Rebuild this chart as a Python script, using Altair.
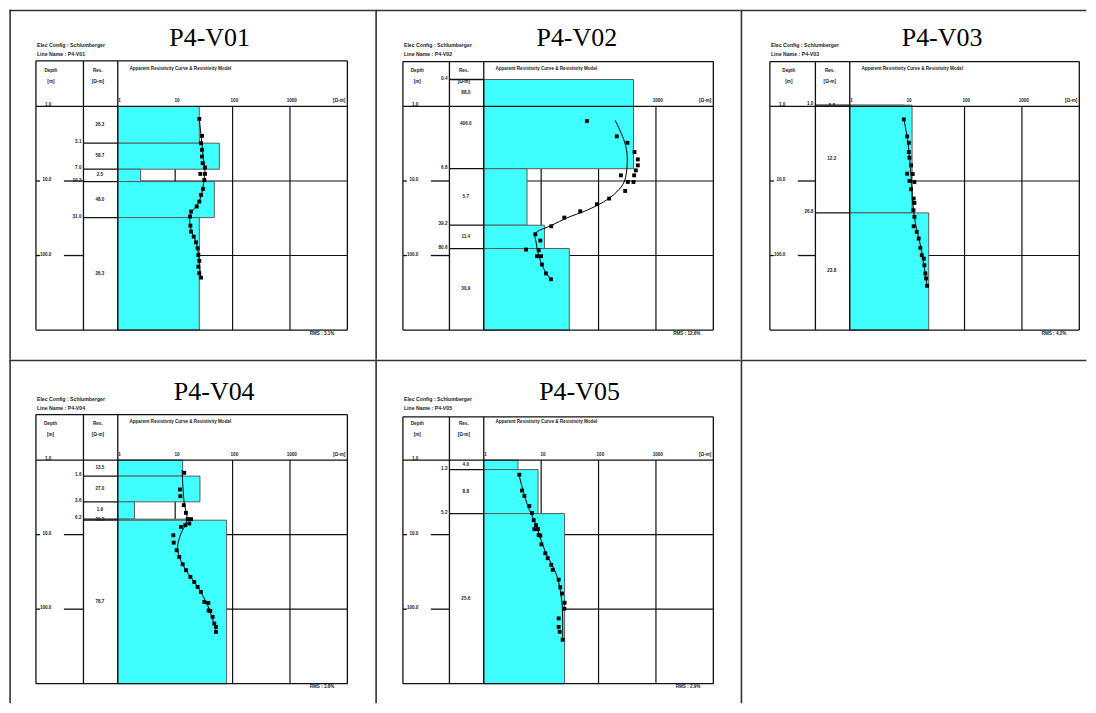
import math
import altair as alt
import pandas as pd

# ---------------- data ----------------
NAMES = ["P4-V01", "P4-V02", "P4-V03", "P4-V04", "P4-V05"]
X_TICKS = [1, 10, 100, 1000]
X_TICK_LABELS = ["1", "10", "100", "1000"]
DEPTH_TICKS = [1, 10, 100]
DEPTH_TICK_LABELS = ["1.0", "10.0", "100.0"]
GRID_X = [10, 100, 1000]
GRID_Y = [10, 100]

# P4-V01
V01_BOUND = [3.11, 6.95, 10.2, 31.0]
V01_BOUND_LABEL = ["3.1", "7.0", "10.2", "31.0"]
V01_RES = [26.3, 58.7, 2.5, 48.0, 26.3]
V01_AB2 = [1.47, 2.48, 3.11, 3.82, 4.70, 5.77, 6.60, 8.03, 8.03, 9.67, 12.8, 15.4, 18.9,
           22.0, 25.7, 30.0, 39.7, 47.8, 55.8, 66.5, 80.0, 98.4, 118, 141, 173, 198]
V01_RHOA = [26.3, 29.3, 28.1, 29.3, 29.3, 30.1, 33.0, 27.4, 33.0, 32.2, 30.5, 28.1, 26.3,
            23.7, 18.9, 18.1, 18.4, 18.9, 21.0, 23.0, 24.6, 25.3, 26.3, 25.3, 26.3, 28.1]
V01_CURVE_AB2 = [1.44, 3.27, 4.94, 7.47, 10.7, 17.1, 22.0, 27.1, 35.1, 47.8, 65.1, 98.4, 149, 203]
V01_CURVE_RHO = [26.3, 29.3, 30.9, 33.0, 31.3, 27.4, 23.0, 18.9, 17.9, 19.4, 23.0, 25.6, 27.0, 27.8]
V01_RMS = "RMS : 3.1%"

# P4-V02
V02_BOUND = [0.435, 6.84, 39.2, 80.6]
V02_BOUND_LABEL = ["0.4", "6.8", "39.2", "80.6"]
V02_RES = [88.0, 406.0, 5.67, 11.4, 30.9]
V02_AB2 = [1.57, 2.52, 3.07, 4.09, 5.13, 6.17, 7.20, 8.40, 8.40, 10.3, 10.3, 13.6, 17.2,
           20.5, 25.5, 31.0, 40.5, 51.8, 63.0, 83.1, 84.9, 102, 102, 132, 174, 208]
V02_RHOA = [62.7, 208, 319, 423, 483, 483, 446, 417, 245, 406, 324, 291, 153,
            93.5, 48.0, 25.3, 15.0, 7.92, 9.68, 5.45, 9.05, 8.47, 9.94, 10.3, 12.1, 14.8]
V02_CURVE_AB2 = [1.54, 2.71, 4.09, 6.84, 10.3, 14.0, 19.1, 24.7, 31.3, 39.2, 50.7, 65.6, 99.0, 149, 214]
V02_CURVE_RHO = [195, 272, 311, 311, 279, 208, 122, 62.7, 28.1, 15.4, 7.92, 8.13, 9.05, 11.0, 15.0]
V02_RMS = "RMS : 12.6%"

# P4-V03
V03_BOUND = [0.96, 26.8]
V03_BOUND_LABEL = ["1.0", "26.8"]
V03_RES = [8.8, 12.2, 23.8]
V03_AB2 = [1.49, 2.52, 3.07, 4.09, 4.87, 6.17, 7.98, 8.06, 10.0, 10.3, 12.9, 17.2, 19.7,
           24.7, 30.3, 40.5, 48.2, 59.2, 78.9, 99.0, 110, 135, 174, 203, 255]
V03_RHOA = [8.75, 10.0, 10.7, 10.7, 11.0, 11.7, 10.0, 12.5, 11.0, 13.4, 11.7, 13.0, 13.4,
            12.9, 13.4, 13.0, 14.7, 15.9, 17.0, 18.0, 19.5, 20.0, 20.8, 21.3, 22.2]
V03_CURVE_AB2 = [1.46, 3.0, 8.4, 19.1, 35.4, 80.6, 249]
V03_CURVE_RHO = [8.75, 10.3, 11.7, 12.5, 13.8, 17.5, 22.2]
V03_RMS = "RMS : 4.2%"

# P4-V04
V04_BOUND = [1.64, 3.63, 6.20, 6.40]
V04_BOUND_LABEL = ["1.6", "3.6", "6.2", ""]
V04_RES = [13.5, 27.0, 1.95, 20.2, 78.7]
V04_AB2 = [1.48, 2.48, 3.05, 4.02, 5.10, 6.20, 6.20, 7.09, 7.47, 7.87, 10.2, 12.8, 16.2, 19.9,
           25.0, 30.0, 36.9, 43.1, 50.3, 58.7, 80.0, 82.6, 104, 106, 127, 156, 173, 202]
V04_RHOA = [14.4, 12.1, 12.3, 14.1, 15.4, 16.5, 18.9, 17.6, 15.0, 12.6, 9.29, 9.42, 10.6, 11.8,
            13.5, 15.4, 18.4, 21.5, 24.6, 28.1, 32.2, 37.8, 38.3, 40.9, 44.9, 48.0, 51.3, 51.3]
V04_CURVE_AB2 = [1.36, 3.82, 5.77, 7.09, 9.67, 14.6, 19.9, 30.0, 50.3, 88.7, 192]
V04_CURVE_RHO = [13.2, 14.4, 16.1, 15.4, 12.6, 11.0, 11.8, 15.4, 24.6, 36.7, 51.3]
V04_RMS = "RMS : 3.8%"

# P4-V05
V05_BOUND = [1.34, 5.22]
V05_BOUND_LABEL = ["1.3", "5.2"]
V05_RES = [3.95, 8.81, 25.6]
V05_AB2 = [1.57, 2.56, 3.04, 4.13, 5.12, 6.40, 7.46, 8.44, 8.44, 10.1, 10.3, 13.5, 17.8,
           20.7, 25.4, 29.6, 40.2, 50.8, 61.7, 82.0, 98.6, 133, 173, 201, 257]
V05_RHOA = [4.17, 4.64, 5.10, 6.22, 6.93, 7.41, 8.13, 7.60, 8.81, 9.05, 9.68, 10.1, 11.8,
            13.0, 15.0, 15.9, 20.2, 21.5, 23.0, 25.6, 25.3, 20.2, 20.2, 21.0, 23.7]
V05_CURVE_AB2 = [1.53, 3.85, 7.09, 16.9, 36.3, 82.0, 252]
V05_CURVE_RHO = [4.06, 5.67, 7.92, 11.8, 18.9, 23.0, 23.7]
V05_RMS = "RMS : 2.9%"

# ---------------- styling / layout ----------------
CYAN = "#40FFFF"
INK = "#111111"
TXT = "#222222"
FONT = "Liberation Sans"
SERIF = "Liberation Serif"
W, H = 230, 224          # chart area of each log
D = -34.4                # depth / res column divider (relative to chart left)

# table cells (page pixels) and chart-area origins (page pixels)
COL_LEFT = [8.0, 374.7, 740.7]
COL_RIGHT = [374.7, 740.7, 1087.0]
ROW_TOP = [8.0, 358.7]
ROW_BOTTOM = [358.7, 703.0]
ORIG_X = [116.7, 483.35, 850.0]
ORIG_Y = [105.0, 459.3]
SPACE_X = ORIG_X[1] - ORIG_X[0] - W
SPACE_Y = ORIG_Y[1] - ORIG_Y[0]   # row groups have no flush height of their own

# per panel: frame left, frame top, title centre, depth header x (relative to chart origin)
LAYOUT = [
    dict(fl=-82, ft=-45.7, tx=92.0, dh=-67.0),
    dict(fl=-81, ft=-45.0, tx=93.2, dh=-66.6),
    dict(fl=-80, ft=-45.0, tx=92.5, dh=-61.0),
    dict(fl=-82, ft=-45.6, tx=96.6, dh=-67.4),
    dict(fl=-81, ft=-43.4, tx=95.9, dh=-66.6),
]

XS = alt.Scale(type="log", domain=[1, 10000], nice=False)
YS = alt.Scale(type="log", domain=[1, 1000], nice=False, reverse=True)
SMALL = dict(fontSize=4.6, font=FONT, color=TXT, fontWeight="bold")


def one():
    return pd.DataFrame({"k": [0]})


def vline(x, y1, y2, color=INK, width=1.3):
    return alt.Chart(one()).mark_rule(color=color, strokeWidth=width).encode(
        x=alt.value(x), y=alt.value(y1), y2=alt.value(y2))


def hline(y, x1, x2, color=INK, width=1.3):
    return alt.Chart(one()).mark_rule(color=color, strokeWidth=width).encode(
        y=alt.value(y), x=alt.value(x1), x2=alt.value(x2))


def label(text, x, y, size=4.6, align="center", font=FONT, baseline="middle", color=TXT, weight="bold"):
    return alt.Chart(one()).mark_text(text=text, align=align, baseline=baseline, fontWeight=weight,
                                      fontSize=size, font=font, color=color).encode(
        x=alt.value(x), y=alt.value(y))


def cell_bg(col, row):
    x1 = COL_LEFT[col] - ORIG_X[col]
    x2 = COL_RIGHT[col] - ORIG_X[col]
    y1 = ROW_TOP[row] - ORIG_Y[row]
    y2 = ROW_BOTTOM[row] - ORIG_Y[row]
    bg = alt.Chart(one()).mark_rect(fill="white", strokeWidth=0).encode(
        x=alt.value(x1), x2=alt.value(x2), y=alt.value(y1), y2=alt.value(y2))
    left = vline(x1 + 0.8, y1, y2, color="#333333", width=1.6)
    top = hline(y1 + 0.8, x1, x2, color="#333333", width=1.6)
    return [bg, left, top]


def panel(idx, col, row, name, bound, bound_label, res, ab2, rhoa, c_ab2, c_rho, rms):
    L = LAYOUT[idx]
    fl, ft = L["fl"], L["ft"]
    tops = [1.0] + list(bound)
    bots = list(bound) + [1000.0]

    parts = cell_bg(col, row)

    # titles and header notes
    parts.append(label(name, L["tx"], -60.5, size=26, font=SERIF, baseline="alphabetic",
                       color="#000000", weight="normal"))
    parts.append(label("Elec Config : Schlumberger", fl + 1, -61.5, size=5.2, align="left"))
    parts.append(label("Line Name   : " + name, fl + 1, -52.5, size=5.2, align="left"))

    # grid
    gx = alt.Chart(pd.DataFrame({"r": GRID_X})).mark_rule(color=INK, strokeWidth=1.2).encode(
        x=alt.X("r:Q", scale=XS, axis=None), y=alt.value(0), y2=alt.value(H))
    gy = alt.Chart(pd.DataFrame({"d": GRID_Y})).mark_rule(color=INK, strokeWidth=1.2).encode(
        y=alt.Y("d:Q", scale=YS, axis=None), x=alt.value(0), x2=alt.value(W))
    parts += [gx, gy]

    # x tick labels
    xt = alt.Chart(pd.DataFrame({"r": X_TICKS, "t": X_TICK_LABELS})).mark_text(
        baseline="middle", dx=1.8, **SMALL).encode(
        x=alt.X("r:Q", scale=XS, axis=None), y=alt.value(-5), text="t:N")
    parts.append(xt)
    parts.append(label("[Ω-m]", W - 2, -5, align="right"))

    # model layers
    rects = alt.Chart(pd.DataFrame({"lo": [1.0] * len(res), "res": res, "top": tops, "bot": bots})).mark_rect(
        fill=CYAN, stroke="#5a5a5a", strokeWidth=1).encode(
        x=alt.X("lo:Q", scale=XS, axis=None), x2="res:Q",
        y=alt.Y("top:Q", scale=YS, axis=None), y2="bot:Q")
    parts.append(rects)

    # layer boundaries in the res column + depth labels
    bdf = pd.DataFrame({"d": bound, "t": bound_label})
    parts.append(alt.Chart(bdf).mark_rule(color=INK, strokeWidth=1.3).encode(
        y=alt.Y("d:Q", scale=YS, axis=None), x=alt.value(D), x2=alt.value(0)))
    parts.append(alt.Chart(bdf).mark_text(align="right", baseline="middle", dy=-1, **SMALL).encode(
        y=alt.Y("d:Q", scale=YS, axis=None), x=alt.value(D - 2), text="t:N"))

    # depth ticks in depth column
    ddf = pd.DataFrame({"d": GRID_Y})
    parts.append(alt.Chart(ddf).mark_rule(color=INK, strokeWidth=1.3).encode(
        y=alt.Y("d:Q", scale=YS, axis=None), x=alt.value(fl), x2=alt.value(fl + 4)))
    parts.append(alt.Chart(ddf).mark_rule(color=INK, strokeWidth=1.3).encode(
        y=alt.Y("d:Q", scale=YS, axis=None), x=alt.value(fl + 28), x2=alt.value(D)))
    parts.append(alt.Chart(pd.DataFrame({"d": DEPTH_TICKS, "t": DEPTH_TICK_LABELS})).mark_text(
        align="right", baseline="middle", dy=-1, **SMALL).encode(
        y=alt.Y("d:Q", scale=YS, axis=None), x=alt.value(fl + 15.5), text="t:N"))

    # frame
    parts += [
        hline(ft, fl, W), hline(H, fl, W), hline(0, fl, W),
        vline(fl, ft, H), vline(W, ft, H), vline(D, ft, H), vline(0, ft, H),
    ]

    # header texts
    parts += [
        label("Depth", L["dh"], -35.7),
        label("[m]", L["dh"], -25),
        label("Res.", -20, -35.7),
        label("[Ω-m]", -20, -25),
        label("Apparent Resistivity Curve & Resistivity Model", 11.7, -38, align="left"),
    ]

    # resistivity labels at layer mid-depth
    rdf = pd.DataFrame({"d": [math.sqrt(t * b) for t, b in zip(tops, bots)],
                        "t": [f"{r:.1f}" for r in res]})
    parts.append(alt.Chart(rdf).mark_text(baseline="middle", **SMALL).encode(
        y=alt.Y("d:Q", scale=YS, axis=None), x=alt.value(-18), text="t:N"))

    # calculated curve and field data
    cdf = pd.DataFrame({"ab2": c_ab2, "rho": c_rho, "i": list(range(len(c_ab2)))})
    parts.append(alt.Chart(cdf).mark_line(color="black", strokeWidth=1, interpolate="catmull-rom").encode(
        x=alt.X("rho:Q", scale=XS, axis=None), y=alt.Y("ab2:Q", scale=YS, axis=None), order="i:Q"))
    pdf = pd.DataFrame({"ab2": ab2, "rhoa": rhoa})
    parts.append(alt.Chart(pdf).mark_point(shape="square", filled=True, size=15, color="black",
                                           opacity=1, strokeWidth=0).encode(
        x=alt.X("rhoa:Q", scale=XS, axis=None), y=alt.Y("ab2:Q", scale=YS, axis=None)))

    parts.append(label(rms, 217, 227.5, align="right"))

    return alt.layer(*parts).properties(width=W, height=H)


def empty_cell(col, row):
    return alt.layer(*cell_bg(col, row)).properties(width=W, height=H)


p1 = panel(0, 0, 0, NAMES[0], V01_BOUND, V01_BOUND_LABEL, V01_RES, V01_AB2, V01_RHOA, V01_CURVE_AB2, V01_CURVE_RHO, V01_RMS)
p2 = panel(1, 1, 0, NAMES[1], V02_BOUND, V02_BOUND_LABEL, V02_RES, V02_AB2, V02_RHOA, V02_CURVE_AB2, V02_CURVE_RHO, V02_RMS)
p3 = panel(2, 2, 0, NAMES[2], V03_BOUND, V03_BOUND_LABEL, V03_RES, V03_AB2, V03_RHOA, V03_CURVE_AB2, V03_CURVE_RHO, V03_RMS)
p4 = panel(3, 0, 1, NAMES[3], V04_BOUND, V04_BOUND_LABEL, V04_RES, V04_AB2, V04_RHOA, V04_CURVE_AB2, V04_CURVE_RHO, V04_RMS)
p5 = panel(4, 1, 1, NAMES[4], V05_BOUND, V05_BOUND_LABEL, V05_RES, V05_AB2, V05_RHOA, V05_CURVE_AB2, V05_CURVE_RHO, V05_RMS)
p6 = empty_cell(2, 1)

chart = alt.vconcat(
    alt.hconcat(p1, p2, p3, spacing=SPACE_X, bounds="flush"),
    alt.hconcat(p4, p5, p6, spacing=SPACE_X, bounds="flush"),
    spacing=SPACE_Y,
    bounds="flush",
).properties(padding=0, background="white").configure_view(stroke=None)

chart.save("out.html", embed_options={"renderer": "svg", "actions": False})
